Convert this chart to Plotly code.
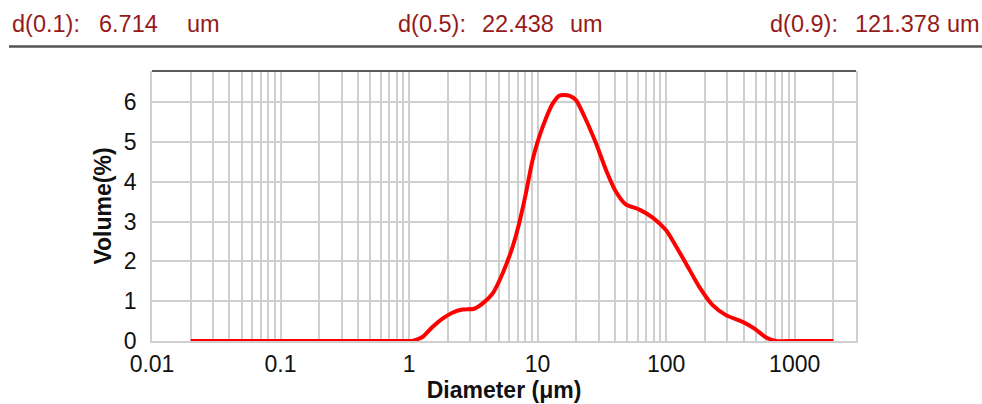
import plotly.graph_objects as go

# ---- data ----
diameter_um = [0.02, 0.05, 0.1, 0.2, 0.5, 1.0, 1.06, 1.27, 1.52, 1.82, 2.17, 2.60, 3.2, 3.72, 4.46,
               5.33, 6.38, 7.18, 8.1, 9.13, 10.3, 11.6, 13.1, 14.7, 16.0, 17.6, 19.9, 23.8, 28.5,
               34.1, 40.8, 48.5, 61.9, 78.6, 100, 112, 143, 181, 230, 292, 394, 487, 600,
               718, 1000, 1500, 2000]
volume_pct = [0, 0, 0, 0, 0, 0, 0.0, 0.1, 0.35, 0.56, 0.71, 0.79, 0.81, 0.94, 1.19,
              1.69, 2.36, 2.95, 3.70, 4.54, 5.13, 5.59, 5.96, 6.16, 6.18, 6.16, 6.05, 5.55, 4.96,
              4.29, 3.74, 3.43, 3.30, 3.10, 2.78, 2.53, 1.94, 1.36, 0.90, 0.65, 0.48, 0.31, 0.09,
              0, 0, 0, 0]

decade_ticks = [0.01, 0.1, 1, 10, 100, 1000]
decade_labels = ["0.01", "0.1", "1", "10", "100", "1000"]

header_labels = ["d(0.1):", "6.714", "um", "d(0.5):", "22.438", "um", "d(0.9):", "121.378", "um"]
header_px = [10, 97, 185, 396, 480, 568, 768, 853, 945]

# ---- layout geometry ----
W, H = 982, 404
L, R, T, B = 152, 126, 71, 63
pw = W - L - R
ph = H - T - B

grid_vals = []
for e in range(-2, 4):
    for m in range(1, 10):
        v = m * 10 ** e
        if v <= 3000:
            grid_vals.append(v)
grid_vals.append(3000)
grid_text = []
for v in grid_vals:
    if v in decade_ticks:
        grid_text.append(decade_labels[decade_ticks.index(v)])
    else:
        grid_text.append("")

fig = go.Figure()
fig.add_trace(go.Scatter(
    x=diameter_um, y=volume_pct, mode="lines",
    line=dict(color="#ff0000", width=4, shape="spline", smoothing=0.6),
    showlegend=False, hoverinfo="x+y"))

FONT = "Liberation Sans, Arial, sans-serif"
tickfont = dict(family=FONT, size=23, color="#111")
fig.update_layout(
    width=W, height=H,
    margin=dict(l=L, r=R, t=T, b=B, autoexpand=False),
    paper_bgcolor="white", plot_bgcolor="white",
    font=dict(family=FONT),
    xaxis=dict(type="log", range=[-2, 3.4771], automargin=False,
               tickmode="array", tickvals=grid_vals, ticktext=grid_text,
               showgrid=True, gridcolor="#cfcfcf", gridwidth=1.5,
               showline=True, linecolor="#cfcfcf", linewidth=1.5,
               ticks="", tickfont=tickfont, ticklabelstandoff=2,
               zeroline=False,
               title=dict(text="<b>Diameter (μm)</b>", font=dict(size=23, color="#111"), standoff=2)),
    yaxis=dict(range=[0, 6.78], tickmode="array", tickvals=[0, 1, 2, 3, 4, 5, 6], automargin=False,
               showgrid=True, gridcolor="#cfcfcf", gridwidth=1.5,
               showline=True, linecolor="#cfcfcf", linewidth=1.5, mirror=True,
               ticks="", tickfont=tickfont, ticklabelstandoff=9, zeroline=False,
               title=dict(text="<b>Volume(%)</b>", font=dict(size=23, color="#111"), standoff=6)),
)

# top border of the plot (dark)
fig.add_shape(type="line", xref="paper", yref="paper", x0=0, x1=1, y0=1, y1=1,
              line=dict(color="#5a5a5a", width=2))
# header separator line
fig.add_shape(type="line", xref="paper", yref="paper",
              x0=(9 - L) / pw, x1=(982 - L) / pw,
              y0=(H - B - 46.5) / ph, y1=(H - B - 46.5) / ph,
              line=dict(color="#555555", width=2.5))

for txt, px in zip(header_labels, header_px):
    fig.add_annotation(text=txt, xref="paper", yref="paper",
                       x=(px - L) / pw, y=(H - B - 24) / ph,
                       xanchor="left", yanchor="middle", showarrow=False,
                       font=dict(family=FONT, size=23.5, color="#951b1b"))

fig.write_html("out.html")
